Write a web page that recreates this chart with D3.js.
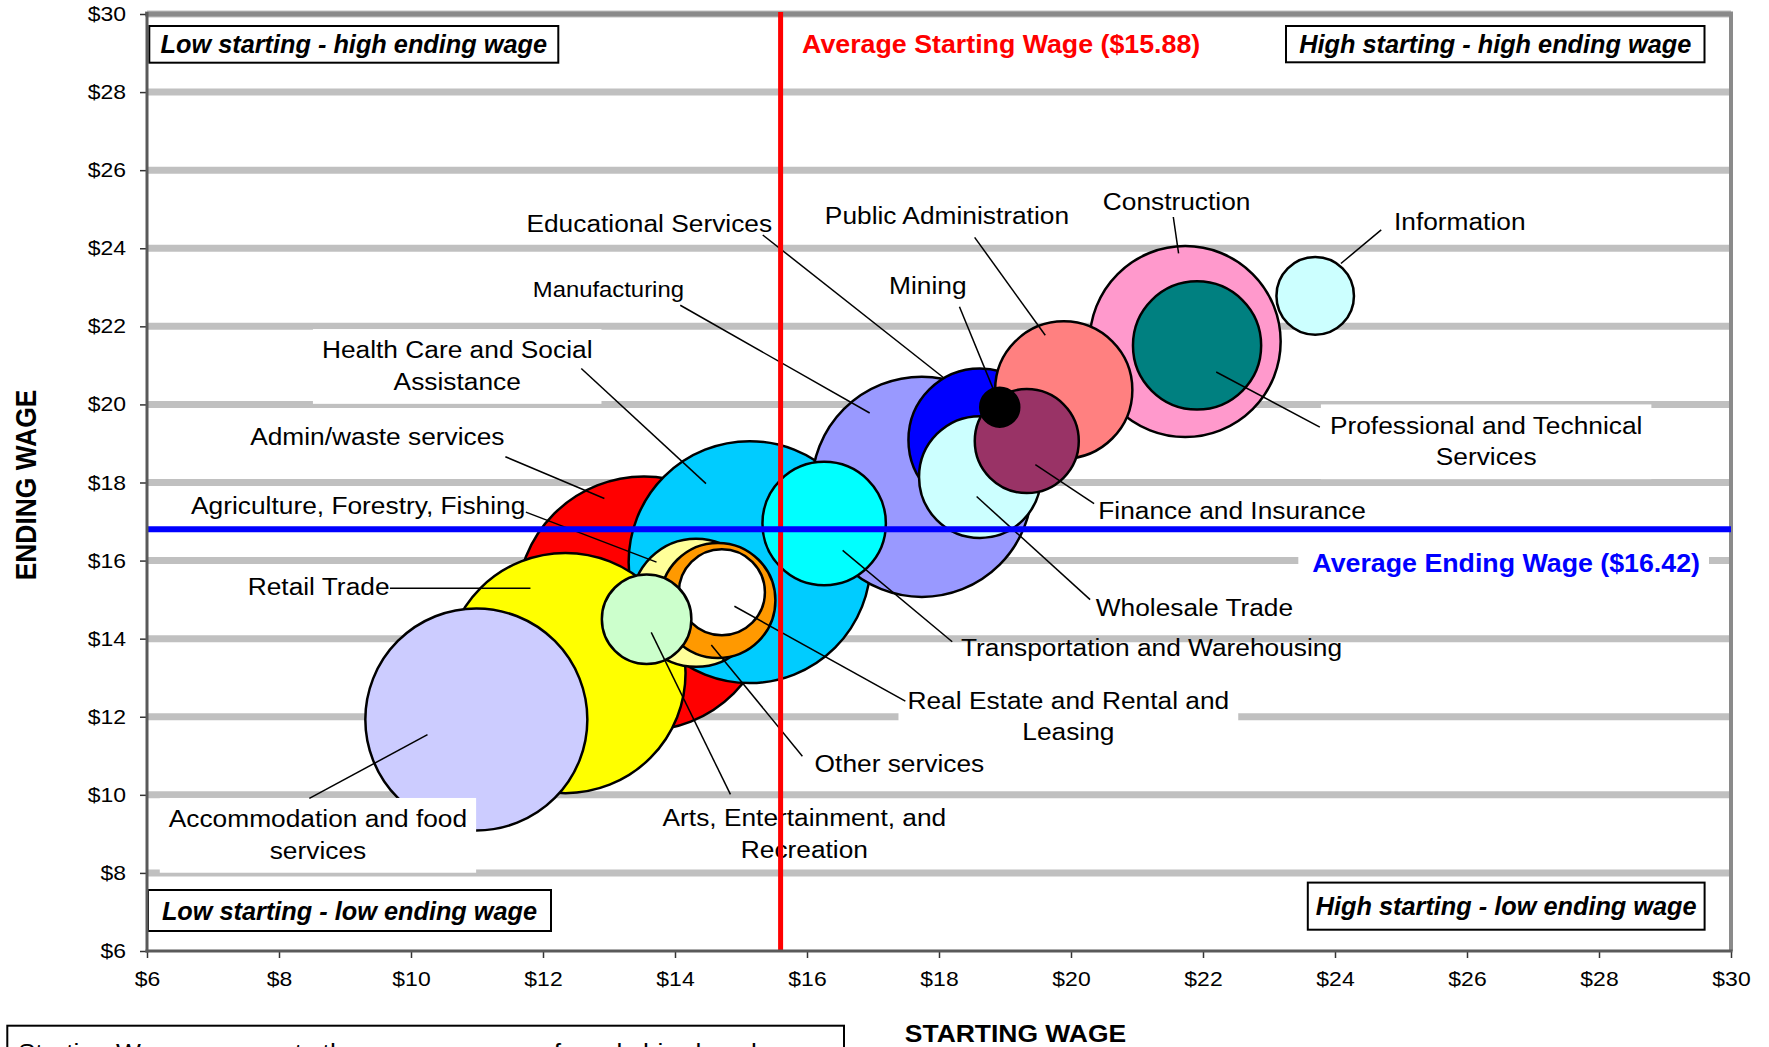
<!DOCTYPE html>
<html>
<head>
<meta charset="utf-8">
<script src="https://cdn.jsdelivr.net/npm/d3@7"></script>
<style>
  body { margin: 0; background: #fff; }
  svg { display: block; }
  text { font-family: "Liberation Sans", Arial, sans-serif; }
</style>
</head>
<body>
<svg id="chart" width="1769" height="1047"></svg>
<script>
// industries, listed back to front (draw order of the bubbles)
const industries = [
    'Admin/waste services', 'Health Care and Social Assistance', 'Retail Trade',
    'Accommodation and food services', 'Manufacturing', 'Construction',
    'Educational Services', 'Public Administration', 'Agriculture, Forestry, Fishing',
    'Professional and Technical Services', 'Transportation and Warehousing', 'Wholesale Trade',
    'Other services', 'Finance and Insurance', 'Real Estate and Rental and Leasing',
    'Information', 'Arts, Entertainment, and Recreation', 'Mining'
]
const startWage = [13.53, 15.13, 12.34, 10.99, 17.74, 21.73, 18.62, 19.89, 14.32, 21.91, 16.26, 18.62, 14.65, 19.33, 14.71, 23.70, 13.57, 18.92]
const endWage   = [14.90, 15.96, 13.12, 11.93, 17.89, 21.61, 19.09, 20.37, 14.92, 21.51, 16.95, 18.14, 14.98, 19.06, 15.19, 22.78, 14.50, 19.93]
const jobs      = [161, 146, 144, 123, 121, 91, 51, 47, 41, 41, 38, 37, 33, 27, 18.5, 15, 20, 3.8]
const colors = ['#FF0000', '#00CCFF', '#FFFF00', '#CCCCFF', '#9999FF', '#FF99CC', '#0000FF', '#FF8080', '#FFFF99',
                '#008080', '#00FFFF', '#CCFFFF', '#FF9900', '#993366', '#FFFFFF', '#CCFFFF', '#CCFFCC', '#000000']

const xTicks = [6, 8, 10, 12, 14, 16, 18, 20, 22, 24, 26, 28, 30]
const yTicks = [6, 8, 10, 12, 14, 16, 18, 20, 22, 24, 26, 28, 30]

const avgStart = 15.6
const avgEnd = 16.8
const avgStartLabel = 'Average Starting Wage ($15.88)'
const avgEndLabel = 'Average Ending Wage ($16.42)'

const quadrants = ['Low starting - high ending wage', 'High starting - high ending wage',
                   'Low starting - low ending wage', 'High starting - low ending wage']

// data labels: text lines, anchor (centre, first baseline) and leader line, in wage units
const labelText = [
    ['Educational Services'], ['Manufacturing'], ['Health Care and Social', 'Assistance'],
    ['Admin/waste services'], ['Agriculture, Forestry, Fishing'], ['Retail Trade'],
    ['Accommodation and food', 'services'], ['Arts, Entertainment, and', 'Recreation'], ['Other services'],
    ['Real Estate and Rental and', 'Leasing'], ['Transportation and Warehousing'], ['Wholesale Trade'],
    ['Finance and Insurance'], ['Professional and Technical', 'Services'], ['Construction'],
    ['Public Administration'], ['Mining'], ['Information']
]
const labelAt = [[13.61, 24.41], [12.99, 22.75], [10.70, 21.18], [9.49, 18.95], [9.20, 17.19], [8.60, 15.11],
                 [8.59, 9.17], [15.96, 9.20], [17.40, 10.59], [19.96, 12.20], [21.22, 13.55], [21.87, 14.57],
                 [22.44, 17.07], [26.29, 19.25], [21.60, 24.98], [18.12, 24.61], [17.83, 22.83], [25.89, 24.47]]
const leaderFrom = [[15.33, 24.34], [14.08, 22.54], [12.58, 20.92], [11.43, 18.66], [11.74, 17.24], [9.68, 15.29],
                    [8.46, 9.91], [14.84, 10.01], [15.93, 10.99], [17.49, 12.40], [18.20, 13.92], [20.29, 15.00],
                    [20.35, 17.46], [23.77, 19.42], [21.55, 24.80], [18.54, 24.28], [18.31, 22.50], [24.70, 24.47]]
const leaderTo = [[18.08, 20.67], [16.95, 19.78], [14.47, 17.97], [12.93, 17.59], [13.72, 15.96], [11.81, 15.29],
                  [10.25, 11.54], [13.64, 14.16], [14.55, 13.84], [14.90, 14.83], [16.54, 16.26], [18.57, 17.64],
                  [19.46, 18.46], [22.20, 20.83], [21.63, 23.87], [19.61, 21.77], [18.83, 20.36], [24.09, 23.61]]
const labelFilled = ['Health Care and Social', 'Accommodation and food', 'Real Estate and Rental and', 'Professional and Technical']

const footnote = 'Starting Wage represents the average wage of newly hired workers'

const M = {left: 147, right: 1731, top: 14, bottom: 951}
const SX = 1.12      // the original's regular text is a bit wide
const LABEL_SIZE = 23.5
const LINE_GAP = 31.5

const svg = d3.select('#chart')
const x = d3.scaleLinear().domain([6, 30]).range([M.left, M.right])
const y = d3.scaleLinear().domain([6, 30]).range([M.bottom, M.top])
const r = d3.scaleSqrt().domain([0, d3.max(jobs)]).range([0, 127])

const wideText = (parent, px, py, str, size, opts = {}) => {
    const g = parent.append('g')
        .attr('transform', `translate(${px},${py}) scale(${opts.sx ?? SX},1)` + (opts.rotate ? ` rotate(${opts.rotate})` : ''))
    return g.append('text')
        .attr('font-size', size)
        .attr('text-anchor', opts.anchor || 'middle')
        .attr('font-weight', opts.weight || 'normal')
        .attr('font-style', opts.style || 'normal')
        .attr('fill', opts.fill || '#000')
        .text(str)
}

// gridlines
svg.append('g').selectAll('line')
    .data(yTicks.filter(v => v > 6))
    .join('line')
    .attr('x1', M.left).attr('x2', M.right)
    .attr('y1', d => y(d)).attr('y2', d => y(d))
    .attr('stroke', '#C0C0C0').attr('stroke-width', 7)

// plot area border (top and right)
svg.append('line').attr('x1', M.left - 2).attr('x2', M.right + 2).attr('y1', M.top).attr('y2', M.top)
    .attr('stroke', '#8a8a8a').attr('stroke-width', 5)
svg.append('line').attr('x1', M.right).attr('x2', M.right).attr('y1', M.top).attr('y2', M.bottom)
    .attr('stroke', '#8a8a8a').attr('stroke-width', 4)

// bubbles
const idx = d3.range(industries.length)
svg.append('g').selectAll('circle')
    .data(idx)
    .join('circle')
    .attr('cx', i => x(startWage[i]))
    .attr('cy', i => y(endWage[i]))
    .attr('r', i => r(jobs[i]))
    .attr('fill', i => colors[i])
    .attr('stroke', '#000')
    .attr('stroke-width', 2.5)

// data labels
const rectLayer = svg.append('g')
const leaderLayer = svg.append('g')
const textLayer = svg.append('g')
labelText.forEach((lines, i) => {
    const cx = x(labelAt[i][0]), by = y(labelAt[i][1])
    const size = lines[0] === 'Manufacturing' ? 21.3 : LABEL_SIZE
    let w = 0
    lines.forEach((ln, k) => {
        const t = wideText(textLayer, cx, by + k * LINE_GAP, ln, size)
        w = Math.max(w, t.node().getComputedTextLength() * SX)
    })
    if (labelFilled.includes(lines[0])) {
        const top = by - 0.905 * size - 8
        const bottom = by + (lines.length - 1) * LINE_GAP + 0.212 * size + 9
        rectLayer.append('rect')
            .attr('x', cx - w / 2 - 9).attr('y', top)
            .attr('width', w + 18).attr('height', bottom - top)
            .attr('fill', '#fff')
    }
    leaderLayer.append('line')
        .attr('x1', x(leaderFrom[i][0])).attr('y1', y(leaderFrom[i][1]))
        .attr('x2', x(leaderTo[i][0])).attr('y2', y(leaderTo[i][1]))
        .attr('stroke', '#000').attr('stroke-width', 1.5)
})

// average lines
svg.append('line')
    .attr('x1', x(avgStart)).attr('x2', x(avgStart))
    .attr('y1', M.top - 2).attr('y2', M.bottom)
    .attr('stroke', '#FF0000').attr('stroke-width', 5)
svg.append('line')
    .attr('x1', M.left).attr('x2', M.right)
    .attr('y1', y(avgEnd)).attr('y2', y(avgEnd))
    .attr('stroke', '#0000FF').attr('stroke-width', 6)

wideText(svg, x(avgStart) + 21.5, M.top + 38.7, avgStartLabel, 26,
    {anchor: 'start', weight: 'bold', fill: '#FF0000', sx: 1.03})

const endRect = svg.append('rect').attr('fill', '#fff')
const endText = wideText(svg, M.right - 31, y(avgEnd) + 42.5, avgEndLabel, 26,
    {anchor: 'end', weight: 'bold', fill: '#0000FF', sx: 1.03})
const ew = endText.node().getComputedTextLength() * 1.03
endRect.attr('x', M.right - 31 - ew - 14).attr('y', y(avgEnd) + 11)
    .attr('width', ew + 23).attr('height', 45)

// quadrant boxes
const quadBox = [
    [M.left + 2.3, M.top + 12, 409, 36.7],
    [M.right - 445, M.top + 12, 418.5, 36.3],
    [M.left + 1, M.bottom - 61, 403, 41],
    [M.right - 423.2, M.bottom - 68.4, 396.8, 47.1]
]
quadrants.forEach((q, i) => {
    const [bx, by, bw, bh] = quadBox[i]
    svg.append('rect')
        .attr('x', bx).attr('y', by).attr('width', bw).attr('height', bh)
        .attr('fill', '#fff').attr('stroke', '#000').attr('stroke-width', 2)
    svg.append('text')
        .attr('x', bx + bw / 2).attr('y', by + bh / 2 + 9)
        .attr('text-anchor', 'middle')
        .attr('font-size', 25.3).attr('font-weight', 'bold').attr('font-style', 'italic')
        .text(q)
})

// axes
const yAxis = svg.append('g')
    .attr('transform', `translate(${M.left},0)`)
    .call(d3.axisLeft(y).tickValues(yTicks).tickSize(7).tickPadding(14).tickFormat(d => '$' + d))
const xAxis = svg.append('g')
    .attr('transform', `translate(0,${M.bottom})`)
    .call(d3.axisBottom(x).tickValues(xTicks).tickSize(7).tickPadding(13).tickFormat(d => '$' + d))
;[yAxis, xAxis].forEach(a => {
    a.select('.domain').remove()
    a.selectAll('.tick line').attr('stroke', '#333').attr('stroke-width', 1.5)
    a.selectAll('.tick text')
        .attr('font-family', '"Liberation Sans", Arial, sans-serif')
        .attr('font-size', 20.5).attr('fill', '#000')
})
yAxis.selectAll('.tick text').attr('x', -21 / SX).attr('transform', `scale(${SX},1)`)
xAxis.selectAll('.tick text').attr('transform', `scale(${SX},1)`)

svg.append('line').attr('x1', M.left).attr('x2', M.left).attr('y1', M.top - 2).attr('y2', M.bottom + 1.5)
    .attr('stroke', '#5a5a5a').attr('stroke-width', 3)
svg.append('line').attr('x1', M.left - 1.5).attr('x2', M.right + 1.5).attr('y1', M.bottom).attr('y2', M.bottom)
    .attr('stroke', '#5a5a5a').attr('stroke-width', 3)

// axis titles
wideText(svg, 1015.5, 1042.4, 'STARTING WAGE', 24.5, {weight: 'bold', sx: 1.08})
wideText(svg, 35.5, 485, 'ENDING WAGE', 26.4, {weight: 'bold', rotate: -90})

// footnote box, cut off by the bottom of the picture as in the original
svg.append('rect').attr('x', 7.3).attr('y', 1025.7).attr('width', 836.7).attr('height', 60)
    .attr('fill', '#fff').attr('stroke', '#000').attr('stroke-width', 2)
wideText(svg, 18, 1060.8, footnote, LABEL_SIZE, {anchor: 'start'})
</script>
</body>
</html>
